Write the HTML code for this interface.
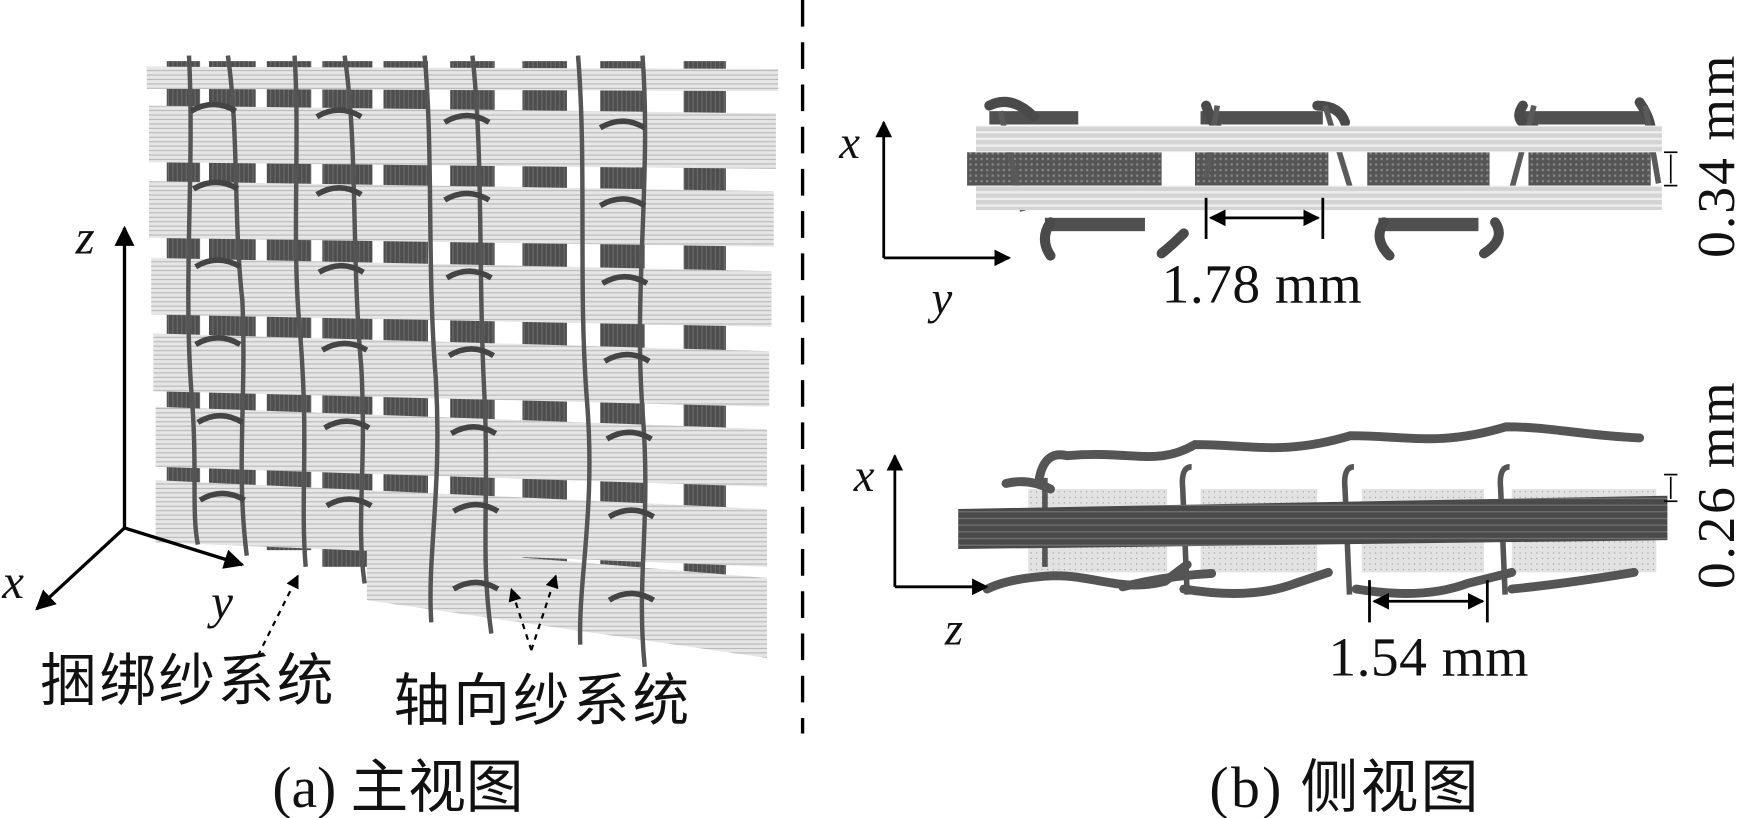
<!DOCTYPE html>
<html><head><meta charset="utf-8"><style>
html,body{margin:0;padding:0;background:#fff;}
svg{display:block}
text{font-family:"Liberation Serif","Noto Serif CJK SC",serif;fill:#111}
.cn{font-family:"Liberation Serif","Noto Sans CJK SC",sans-serif}
</style></head><body>
<svg width="1743" height="818" viewBox="0 0 1568 736" preserveAspectRatio="none" xmlns="http://www.w3.org/2000/svg">
<defs>
<pattern id="hs" width="6" height="4" patternUnits="userSpaceOnUse"><rect width="6" height="4" fill="#e6e6e6"/><rect y="3" width="6" height="1" fill="#b8b8b8"/></pattern>
<pattern id="vs" width="4" height="6" patternUnits="userSpaceOnUse"><rect width="4" height="6" fill="#4e4e4e"/><rect x="3" width="1" height="6" fill="#6a6a6a"/></pattern>
<pattern id="dots" width="5" height="5" patternUnits="userSpaceOnUse"><rect width="5" height="5" fill="#555"/><rect x="2" y="2" width="2" height="2" fill="#888"/></pattern>
<pattern id="ldots" width="5" height="5" patternUnits="userSpaceOnUse"><rect width="5" height="5" fill="#e2e2e2"/><rect x="2" y="2" width="1" height="1" fill="#999"/></pattern>
<pattern id="bar" width="10" height="6" patternUnits="userSpaceOnUse"><rect width="10" height="6" fill="#d4d4d4"/><rect y="4" width="10" height="2" fill="#efefef"/></pattern>
<pattern id="dbar" width="10" height="6" patternUnits="userSpaceOnUse"><rect width="10" height="6" fill="#4a4a4a"/><rect y="4" width="10" height="1" fill="#777"/></pattern>
<marker id="ah" viewBox="0 0 10 10" refX="9" refY="5" markerWidth="6" markerHeight="6" orient="auto-start-reverse"><path d="M0,0L10,5L0,10z" fill="#000"/></marker>
</defs>

<!-- LEFT FABRIC -->
<g>
<rect x="150" y="55" width="30" height="415" fill="url(#vs)"/>
<rect x="188" y="55" width="42" height="425" fill="url(#vs)"/>
<rect x="240" y="55" width="40" height="440" fill="url(#vs)"/>
<rect x="290" y="55" width="45" height="455" fill="url(#vs)"/>
<rect x="345" y="55" width="40" height="465" fill="url(#vs)"/>
<rect x="405" y="55" width="40" height="480" fill="url(#vs)"/>
<rect x="470" y="55" width="40" height="495" fill="url(#vs)"/>
<rect x="540" y="55" width="40" height="510" fill="url(#vs)"/>
<rect x="615" y="55" width="38" height="520" fill="url(#vs)"/>
<polygon points="132,60 700,62 700,82 132,80" fill="url(#hs)"/>
<polygon points="134,95 698,102 698,152 134,146" fill="url(#hs)"/>
<polygon points="134,163 696,172 696,222 134,214" fill="url(#hs)"/>
<polygon points="136,232 694,244 694,294 136,283" fill="url(#hs)"/>
<polygon points="138,300 692,316 692,366 138,352" fill="url(#hs)"/>
<polygon points="140,366 690,386 690,438 140,420" fill="url(#hs)"/>
<polygon points="140,432 690,458 690,510 140,488" fill="url(#hs)"/>
<polygon points="330,490 690,520 690,592 330,540" fill="url(#hs)"/>
<g fill="none" stroke="#555" stroke-width="4">
<path d="M170,50 C175,150 165,250 172,350 C178,420 172,460 178,490"/>
<path d="M205,50 C215,120 210,200 218,270 C222,360 212,420 222,500"/>
<path d="M265,50 C270,130 262,220 270,300 C278,400 270,450 275,510"/>
<path d="M310,50 C322,130 316,230 325,330 C330,420 320,470 328,525"/>
<path d="M382,50 C390,140 384,240 392,340 C398,440 384,500 388,560"/>
<path d="M425,50 C435,140 430,250 436,360 C440,450 432,500 442,570"/>
<path d="M520,50 C528,150 520,260 528,360 C536,460 520,520 522,580"/>
<path d="M578,50 C586,160 570,260 578,370 C586,470 572,520 580,600"/>
</g>
<g fill="none" stroke="#444" stroke-width="5">
<path d="M172,100 q20,-12 40,0"/><path d="M174,170 q20,-12 40,0"/><path d="M176,240 q20,-12 40,0"/><path d="M176,310 q20,-12 40,0"/><path d="M178,380 q20,-12 40,0"/><path d="M180,450 q20,-12 40,0"/>
<path d="M285,105 q20,-12 40,0"/><path d="M285,175 q20,-12 40,0"/><path d="M287,245 q20,-12 40,0"/><path d="M290,315 q20,-12 40,0"/><path d="M292,385 q20,-12 40,0"/><path d="M294,455 q20,-12 40,0"/>
<path d="M400,110 q20,-12 40,0"/><path d="M400,180 q20,-12 40,0"/><path d="M402,250 q20,-12 40,0"/><path d="M404,320 q20,-12 40,0"/><path d="M406,390 q20,-12 40,0"/><path d="M408,460 q20,-12 40,0"/><path d="M408,530 q20,-12 40,0"/>
<path d="M540,115 q20,-12 40,0"/><path d="M540,185 q20,-12 40,0"/><path d="M542,255 q20,-12 40,0"/><path d="M544,325 q20,-12 40,0"/><path d="M546,395 q20,-12 40,0"/><path d="M548,465 q20,-12 40,0"/><path d="M548,540 q20,-12 40,0"/>
</g>
</g>

<g stroke="#000" stroke-width="3" fill="none">
<line x1="112" y1="475" x2="112" y2="205" marker-end="url(#ah)"/>
<line x1="112" y1="475" x2="33" y2="548" marker-end="url(#ah)"/>
<line x1="112" y1="475" x2="218" y2="508" marker-end="url(#ah)"/>
</g>
<text x="68" y="228" font-size="44" font-style="italic">z</text>
<text x="2" y="538" font-size="44" font-style="italic">x</text>
<text x="190" y="556" font-size="44" font-style="italic">y</text>
<g stroke="#000" stroke-width="2" stroke-dasharray="5,5" fill="none">
<line x1="232" y1="590" x2="268" y2="518" marker-end="url(#ah)"/>
<line x1="478" y1="585" x2="460" y2="530" marker-end="url(#ah)"/>
<line x1="478" y1="585" x2="500" y2="518" marker-end="url(#ah)"/>
</g>
<text class="cn" x="36" y="630" font-size="51" textLength="264">捆绑纱系统</text>
<text class="cn" x="354" y="648" font-size="51" textLength="266">轴向纱系统</text>

<line x1="722" y1="0" x2="722" y2="660" stroke="#000" stroke-width="3" stroke-dasharray="24,14"/>

<!-- RIGHT TOP -->
<g>
<rect x="870" y="137" width="175" height="30" fill="url(#dots)"/>
<rect x="1075" y="137" width="120" height="30" fill="url(#dots)"/>
<rect x="1230" y="137" width="110" height="30" fill="url(#dots)"/>
<rect x="1375" y="137" width="110" height="30" fill="url(#dots)"/>
<rect x="890" y="100" width="80" height="12" fill="#505050"/>
<rect x="1080" y="100" width="110" height="12" fill="#505050"/>
<rect x="1370" y="100" width="110" height="12" fill="#505050"/>
<rect x="940" y="196" width="90" height="12" fill="#505050"/>
<rect x="1240" y="196" width="90" height="12" fill="#505050"/>
<g fill="none" stroke="#4a4a4a" stroke-width="9" stroke-linecap="round">
<path d="M890,95 q20,-10 40,10"/><path d="M1085,95 q5,15 10,20"/><path d="M1185,95 q20,0 25,15"/><path d="M1370,95 q-10,15 10,20"/><path d="M1475,92 q10,15 10,25"/>
<path d="M945,200 q-10,15 0,30"/><path d="M1065,210 q-10,10 -20,18"/><path d="M1245,200 q-10,15 5,30"/><path d="M1345,200 q10,15 -10,28"/>
</g>
<g stroke="#5a5a5a" stroke-width="5"><line x1="900" y1="100" x2="920" y2="190"/><line x1="1095" y1="95" x2="1085" y2="160"/><line x1="1192" y1="95" x2="1215" y2="170"/><line x1="1380" y1="95" x2="1360" y2="170"/><line x1="1480" y1="95" x2="1492" y2="165"/></g>
<rect x="878" y="113" width="617" height="24" fill="url(#bar)"/>
<rect x="878" y="167" width="617" height="22" fill="url(#bar)"/>
</g>
<g stroke="#000" stroke-width="2.5" fill="none">
<line x1="795" y1="232" x2="795" y2="110" marker-end="url(#ah)"/>
<line x1="795" y1="232" x2="908" y2="232" marker-end="url(#ah)"/>
<line x1="1085" y1="178" x2="1085" y2="215"/>
<line x1="1190" y1="178" x2="1190" y2="215"/>
<line x1="1089" y1="196" x2="1186" y2="196" marker-end="url(#ah)" marker-start="url(#ah)"/>
<line x1="1497" y1="137" x2="1509" y2="137" stroke-width="1.5"/>
<line x1="1497" y1="167" x2="1509" y2="167" stroke-width="1.5"/>
<line x1="1503" y1="139" x2="1503" y2="165" stroke-width="1.5"/>
</g>
<text x="755" y="142" font-size="42" font-style="italic">x</text>
<text x="838" y="282" font-size="42" font-style="italic">y</text>
<text x="1045" y="272" font-size="50" textLength="180">1.78 mm</text>
<text transform="translate(1560,232) rotate(-90)" font-size="48" textLength="182">0.34 mm</text>

<!-- RIGHT BOTTOM -->
<g>
<rect x="925" y="440" width="125" height="75" fill="url(#ldots)"/>
<rect x="1080" y="440" width="105" height="75" fill="url(#ldots)"/>
<rect x="1225" y="440" width="110" height="75" fill="url(#ldots)"/>
<rect x="1360" y="440" width="130" height="75" fill="url(#ldots)"/>
<g fill="none" stroke="#555" stroke-width="8" stroke-linecap="round">
<path d="M935,430 q5,-25 25,-20 c60,-5 80,10 115,-10 c50,0 80,10 140,-8 c50,0 80,10 140,-8 c40,0 70,8 120,10"/>
<path d="M905,435 q20,-5 40,5"/>
<path d="M888,530 q20,-10 60,-12 c40,0 60,15 100,5 l20,-15"/>
<path d="M1010,528 q40,-10 80,-12"/>
<path d="M1065,530 q60,10 100,-5 l30,-10"/>
<path d="M1220,530 q60,10 100,-5 l40,-10"/>
<path d="M1360,530 q50,-5 110,-15"/>
</g>
<g stroke="#555" stroke-width="5" fill="none">
<path d="M1072,420 q-10,0 -8,20 l4,95"/><path d="M1218,420 q-10,0 -8,20 l4,95"/><path d="M1358,420 q-10,0 -8,20 l4,95"/><path d="M940,430 l0,80"/>
</g>
<polygon points="862,458 1500,446 1500,486 862,494" fill="url(#dbar)"/>
</g>
<g stroke="#000" stroke-width="2.5" fill="none">
<line x1="805" y1="528" x2="805" y2="410" marker-end="url(#ah)"/>
<line x1="805" y1="528" x2="888" y2="528" marker-end="url(#ah)"/>
<line x1="1232" y1="522" x2="1232" y2="560"/>
<line x1="1338" y1="522" x2="1338" y2="560"/>
<line x1="1236" y1="541" x2="1334" y2="541" marker-end="url(#ah)" marker-start="url(#ah)"/>
<line x1="1497" y1="427" x2="1509" y2="427" stroke-width="1.5"/>
<line x1="1497" y1="451" x2="1509" y2="451" stroke-width="1.5"/>
<line x1="1503" y1="429" x2="1503" y2="449" stroke-width="1.5"/>
</g>
<text x="768" y="442" font-size="42" font-style="italic">x</text>
<text x="850" y="580" font-size="42" font-style="italic">z</text>
<text x="1195" y="608" font-size="50" textLength="180">1.54 mm</text>
<text transform="translate(1560,530) rotate(-90)" font-size="48" textLength="186">0.26 mm</text>

<text class="cn" x="245" y="726" font-size="52" textLength="226">(a) 主视图</text>
<text class="cn" x="1088" y="726" font-size="52" textLength="242">(b) 侧视图</text>
</svg>
</body></html>
